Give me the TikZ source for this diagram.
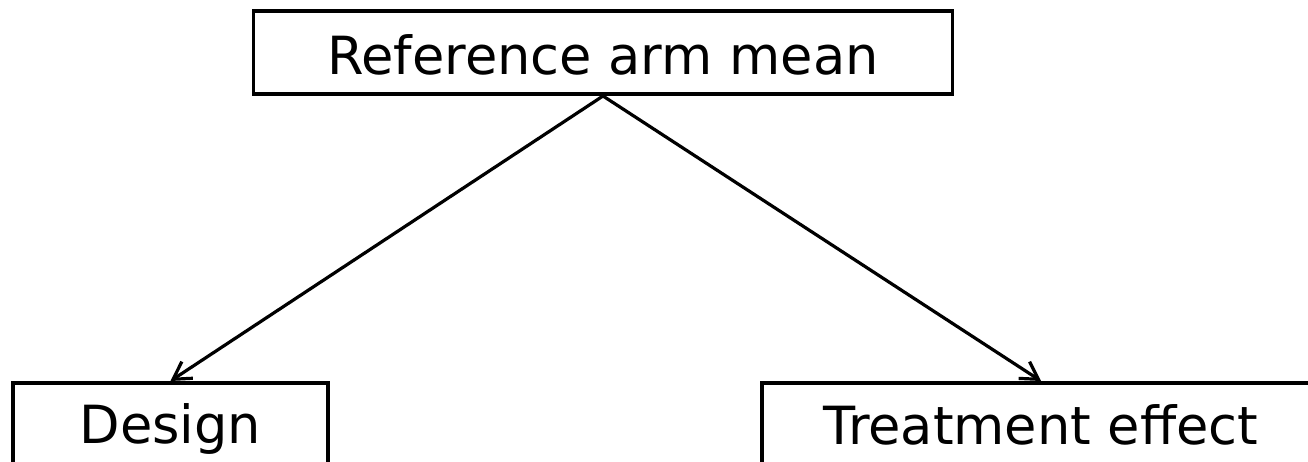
\documentclass[tikz,border=0pt]{standalone}
\usepackage{fontspec}
\setmainfont{DejaVu Sans}
\usetikzlibrary{arrows.meta}
\begin{document}
\begin{tikzpicture}[x=1pt,y=1pt,
  box/.style={draw, line width=3.5pt, rectangle, inner sep=0pt, font=\fontsize{52.6}{60}\selectfont},
  link/.style={line width=3.2pt, -{Straight Barb[length=17pt,width=20pt,line width=3.2pt]}}]
  \useasboundingbox (0,0) rectangle (1308,-462);
  \clip (0,0) rectangle (1308,-462);
  \fill[white] (0,0) rectangle (1308,-462);
  % top box
  \node[box, anchor=north, minimum width=699pt, text height=63pt, text depth=20pt]
    (ref) at (603,-9.5) {Reference arm mean};
  % lower boxes, cut by the page edge
  \node[box, anchor=north, minimum width=315pt, text height=61pt, text depth=100pt]
    (design) at (170.5,-381) {Design};
  \node[box, anchor=north, minimum width=558pt, text height=62pt, text depth=100pt]
    (treat) at (1041,-381) {Treatment effect};
  % connectors
  \draw[link] (ref.south) -- (design.north);
  \draw[link] (ref.south) -- (treat.north);
\end{tikzpicture}
\end{document}
